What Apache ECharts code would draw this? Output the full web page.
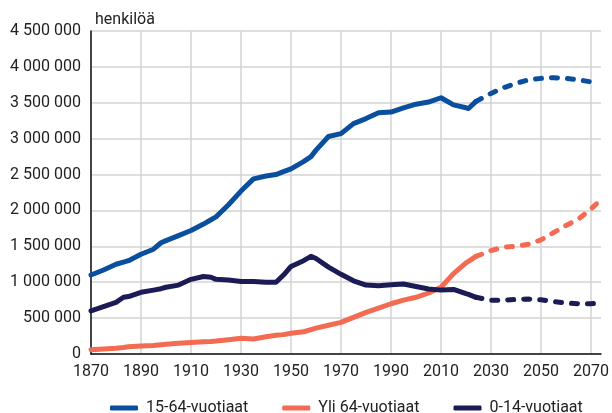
<!DOCTYPE html>
<html>
<head>
<meta charset="utf-8">
<script src="https://cdn.jsdelivr.net/npm/echarts@6/dist/echarts.min.js"></script>
<style>
html,body{margin:0;padding:0;background:#fff;}
#chart{width:612px;height:413px;}
</style>
</head>
<body>
<div id="chart"></div>
<script>
// Historical years (solid lines)
const histYears = [1870,1875,1880,1883,1885,1890,1895,1898,1900,1905,1910,1915,1918,1920,1925,1930,1935,1940,1944,1947,1950,1955,1958,1960,1965,1970,1975,1980,1985,1990,1995,2000,2005,2010,2015,2020,2021,2024];
// Projection years (dashed lines)
const projYears = [2024,2030,2035,2040,2045,2050,2055,2060,2065,2070,2073];

// 15-64-vuotiaat (millions)
const working = [1.10,1.17,1.25,1.28,1.30,1.39,1.46,1.55,1.58,1.65,1.72,1.81,1.87,1.91,2.08,2.27,2.44,2.48,2.50,2.54,2.58,2.68,2.75,2.84,3.03,3.07,3.21,3.28,3.36,3.37,3.43,3.48,3.51,3.57,3.47,3.43,3.42,3.52];
const workingProj = [3.52,3.63,3.71,3.77,3.82,3.84,3.85,3.84,3.82,3.79,3.75];

// Yli 64-vuotiaat (millions)
const elderly = [0.06,0.07,0.08,0.09,0.10,0.11,0.12,0.13,0.135,0.15,0.16,0.17,0.175,0.18,0.20,0.22,0.21,0.24,0.26,0.27,0.29,0.31,0.34,0.36,0.40,0.44,0.51,0.58,0.64,0.70,0.75,0.79,0.85,0.93,1.12,1.27,1.29,1.36];
const elderlyProj = [1.36,1.44,1.49,1.50,1.53,1.59,1.69,1.79,1.88,2.02,2.12];

// 0-14-vuotiaat (millions)
const children = [0.60,0.66,0.72,0.79,0.80,0.86,0.89,0.91,0.93,0.96,1.04,1.08,1.07,1.04,1.03,1.01,1.01,1.00,1.00,1.10,1.22,1.30,1.36,1.33,1.21,1.11,1.02,0.96,0.95,0.965,0.975,0.94,0.905,0.89,0.90,0.84,0.83,0.79];
const childrenProj = [0.79,0.75,0.75,0.76,0.765,0.755,0.73,0.71,0.70,0.70,0.71];

const seriesNames = ['15-64-vuotiaat','Yli 64-vuotiaat','0-14-vuotiaat'];
const colors = ['#0a4f9e','#f26b52','#1b1b55'];
const yTicks = [0,500000,1000000,1500000,2000000,2500000,3000000,3500000,4000000,4500000];

const FONT = 'Roboto, "Liberation Sans", sans-serif';

function pairs(xs, vs){ return xs.map((x,i)=>[x, vs[i]*1e6]); }
function fmt(v){ return String(Math.round(v)).replace(/\B(?=(\d{3})+(?!\d))/g,' '); }

const hist = [working, elderly, children];
const proj = [workingProj, elderlyProj, childrenProj];

const series = [];
for (let i=0;i<3;i++){
  series.push({
    name: seriesNames[i], type:'line', showSymbol:false, symbol:'none', smooth:false,
    data: pairs(histYears, hist[i]), color: colors[i],
    lineStyle:{color:colors[i], width:5, cap:'round', join:'round'},
    z: 3 + (i===1?0:1)
  });
  series.push({
    name: seriesNames[i]+' ennuste', type:'line', showSymbol:false, symbol:'none', smooth:false,
    data: pairs(projYears, proj[i]), color: colors[i],
    lineStyle:{color:colors[i], width:5, type:[6,10], cap:'round', join:'round'},
    z: 3
  });
}

const chart = echarts.init(document.getElementById('chart'), null, {renderer:'canvas'});
chart.setOption({
  animation:false,
  backgroundColor:'#fff',
  textStyle:{fontFamily:FONT},
  title:{text:'henkilöä', left:90, top:7, textStyle:{fontFamily:FONT, fontSize:16, fontWeight:'normal', color:'#222'}},
  grid:{left:91, right:10, top:31, bottom:59, containLabel:false},
  legend:{
    data: seriesNames, top:395, left:105, icon:'roundRect', itemWidth:28, itemHeight:5, itemGap:34,
    textStyle:{fontFamily:FONT, fontSize:16, color:'#222', padding:[0,0,0,3]}
  },
  xAxis:{
    type:'value', min:1870, max:2074, interval:20,
    axisLine:{show:true, lineStyle:{color:'#111', width:1.5}},
    axisTick:{show:false},
    axisLabel:{showMaxLabel:false, fontFamily:FONT, fontSize:16, color:'#222', margin:10, formatter:v=>String(v)},
    splitLine:{show:true, showMaxLine:false, lineStyle:{color:'#d3d3d3', width:1.5}}
  },
  yAxis:{
    type:'value', min:yTicks[0], max:yTicks[yTicks.length-1], interval:500000,
    axisLine:{show:true, lineStyle:{color:'#111', width:1.5}},
    axisTick:{show:false},
    axisLabel:{fontFamily:FONT, fontSize:16, color:'#222', margin:10, formatter:v=>fmt(v)},
    splitLine:{show:true, lineStyle:{color:'#d3d3d3', width:1.5}}
  },
  series: series
});
</script>
</body>
</html>
